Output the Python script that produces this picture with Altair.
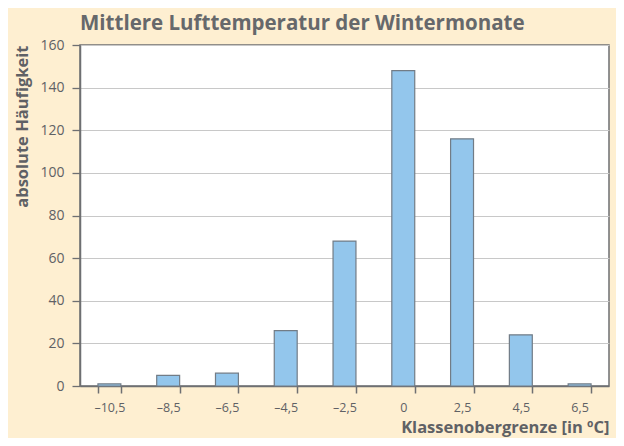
import altair as alt
import pandas as pd

klassen = ["–10,5", "–8,5", "–6,5", "–4,5", "–2,5", "0", "2,5", "4,5", "6,5"]
haeufigkeit = [1, 5, 6, 26, 68, 148, 116, 24, 1]
y_ticks = [0, 20, 40, 60, 80, 100, 120, 140, 160]

df = pd.DataFrame({"klasse": klassen, "n": haeufigkeit})

FONT = "Open Sans"
GREY = "#5f6165"
LINE = "#6e6f72"

chart = (
    alt.Chart(df)
    .mark_bar(color="#93C6EC", stroke="#727c86", strokeWidth=1.2)
    .encode(
        x=alt.X(
            "klasse:N",
            sort=klassen,
            scale=alt.Scale(paddingInner=0.61, paddingOuter=0.305),
            axis=alt.Axis(
                title="Klassenobergrenze [in ºC]",
                titleAnchor="end",
                titleAlign="right",
                titleFontSize=16.5,
                titleFontWeight="bold",
                titleColor=GREY,
                titleFont=FONT,
                titlePadding=6,
                labelAngle=0,
                labelFont=FONT,
                labelFontSize=12.5,
                labelColor=GREY,
                labelPadding=8,
                tickBand="extent",
                tickSize=7,
                tickColor=LINE,
                tickWidth=1.5,
                domainColor=LINE,
                domainWidth=1.5,
                grid=False,
            ),
        ),
        y=alt.Y(
            "n:Q",
            scale=alt.Scale(domain=[0, 160], nice=False),
            axis=alt.Axis(
                values=y_ticks,
                title="absolute Häufigkeit",
                titleAnchor="end",
                titleFontSize=16.5,
                titleFontWeight="bold",
                titleColor=GREY,
                titleFont=FONT,
                titlePadding=9,
                labelFont=FONT,
                labelFontSize=14,
                labelColor=GREY,
                labelPadding=8,
                tickSize=8,
                tickColor=LINE,
                tickWidth=1.3,
                domainColor=LINE,
                domainWidth=1.5,
                grid=True,
                gridColor="#c8c8c8",
                gridWidth=1,
            ),
        ),
    )
    .properties(
        width=529,
        height=341,
        background="#FEEFD1",
        padding={"left": 72, "top": 37, "right": 7, "bottom": 52},
        autosize=alt.AutoSizeParams(type="none"),
        title=alt.TitleParams(
            "Mittlere Lufttemperatur der Wintermonate",
            anchor="start",
            frame="group",
            font=FONT,
            fontSize=20.5,
            fontWeight="bold",
            color="#66686b",
            offset=4,
        ),
    )
    .configure_view(fill="white", stroke=LINE, strokeWidth=1.5)
)

chart.save("out.html", embed_options={"renderer": "svg", "actions": False})
